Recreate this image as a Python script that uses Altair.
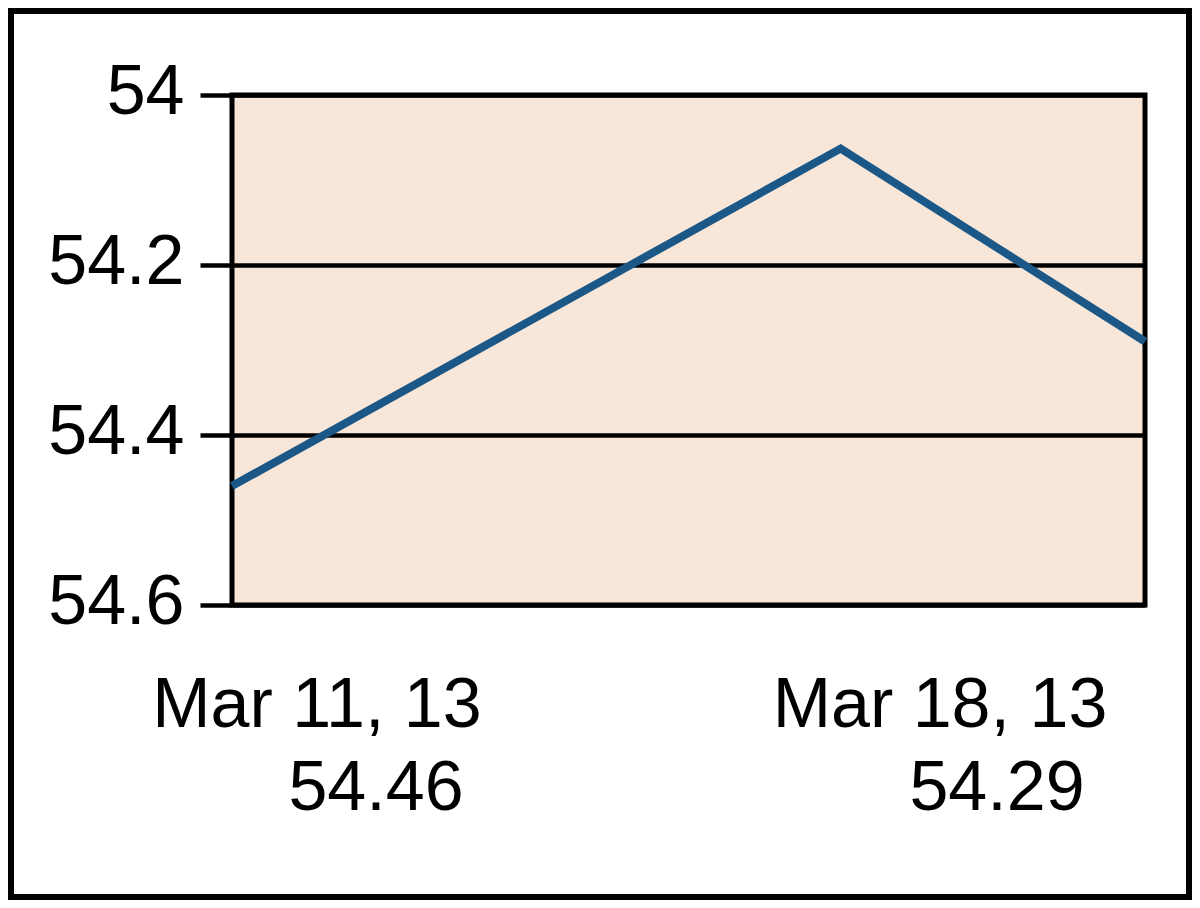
import altair as alt
import pandas as pd

# data
dates = ["2013-03-11T00:00", "2013-03-15T16:00", "2013-03-18T00:00"]
values = [54.46, 54.063, 54.29]
y_ticks = [54.0, 54.2, 54.4, 54.6]
label_lines_left = ["Mar 11, 13", "54.46"]
label_lines_right = ["Mar 18, 13", "54.29"]

df = pd.DataFrame({"date": dates, "value": values})

W, H = 913, 510
FONT = "Liberation Sans"
FS = 70

line = alt.Chart(df).mark_line(color="#1B5888", strokeWidth=8, clip=False).encode(
    x=alt.X("date:T", axis=None, scale=alt.Scale(nice=False, padding=0)),
    y=alt.Y(
        "value:Q",
        scale=alt.Scale(domain=[54.0, 54.6], reverse=True, zero=False, nice=False),
        axis=alt.Axis(
            values=y_ticks,
            format=".1~f",
            title=None,
            grid=True,
            gridColor="black",
            gridWidth=4.5,
            gridOpacity=1,
            domain=False,
            ticks=True,
            tickColor="black",
            tickWidth=4.5,
            tickSize=32,
            labelPadding=16,
            labelFont=FONT,
            labelFontSize=FS,
            labelColor="black",
            labelBaseline="middle",
            labelOffset=-3,
        ),
    ),
)


def text_layer(txt, xv, yv):
    return alt.Chart(pd.DataFrame({"t": [txt]})).mark_text(
        font=FONT, fontSize=FS, color="black", align="center", baseline="alphabetic"
    ).encode(text="t:N", x=alt.value(xv), y=alt.value(yv))


labels = (
    text_layer(label_lines_left[0], 85, 632)
    + text_layer(label_lines_left[1], 144, 715)
    + text_layer(label_lines_right[0], 708, 632)
    + text_layer(label_lines_right[1], 765, 715)
)

border = alt.Chart(pd.DataFrame({"a": [0]})).mark_rect(
    fill=None, stroke="black", strokeWidth=6
).encode(x=alt.value(-221), x2=alt.value(957), y=alt.value(-84), y2=alt.value(802))

chart = (
    alt.layer(line, labels, border)
    .properties(
        width=W,
        height=H,
        autosize=alt.AutoSizeParams(type="none"),
        padding={"left": 224, "top": 87, "right": 47, "bottom": 295},
        background="white",
    )
    .configure_view(fill="#F8E7D8", stroke="black", strokeWidth=5)
)

chart.save("out.html", embed_options={"renderer": "svg", "actions": False})
